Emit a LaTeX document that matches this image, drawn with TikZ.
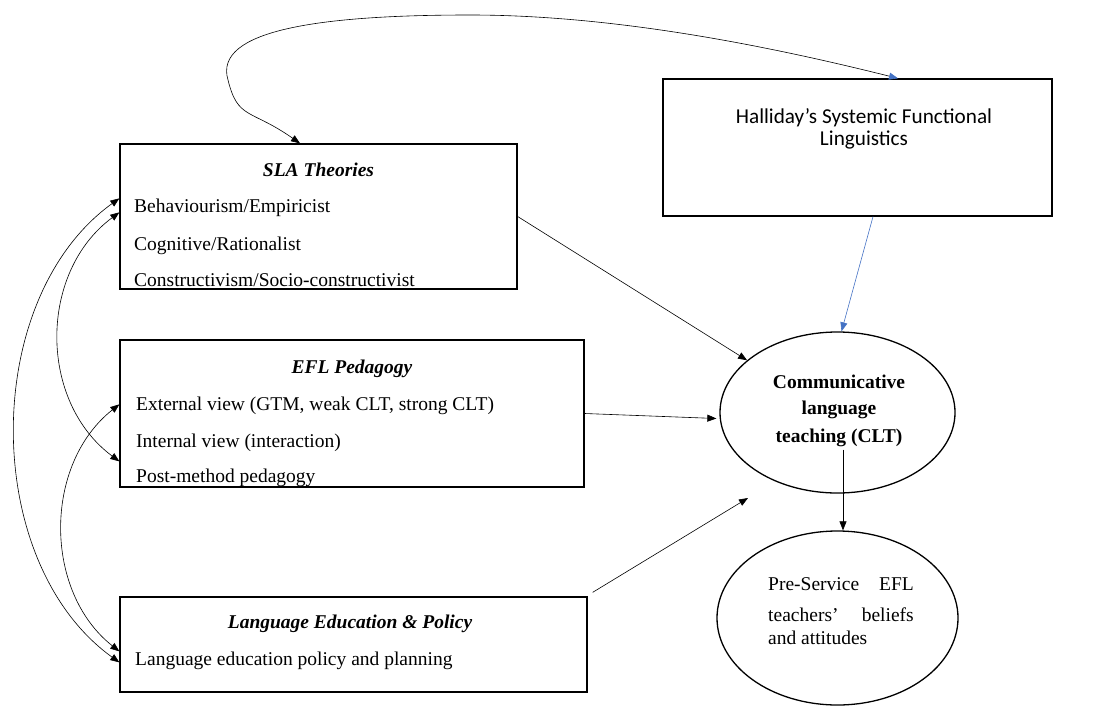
\documentclass[tikz,border=0pt]{standalone}
\usepackage{fontspec}
\setmainfont{Liberation Serif}
\newfontfamily\calibfont{Carlito}
\usetikzlibrary{arrows.meta,shapes.geometric,calc}
\definecolor{linkblue}{RGB}{68,114,196}
\tikzset{
  framebox/.style={draw=black, line width=1.3pt, rectangle, inner sep=0pt},
  oval/.style={draw=black, line width=1.3pt, ellipse, inner sep=0pt},
  body/.style={inner sep=0pt, anchor=base west, font=\fontsize{19.5}{23}\selectfont},
  heading/.style={inner sep=0pt, anchor=base, font=\fontsize{19.5}{23}\selectfont\bfseries\itshape},
  cltline/.style={inner sep=0pt, anchor=base, font=\fontsize{19.5}{23}\selectfont\bfseries},
  link/.style={line width=0.6pt, -{Triangle[length=9pt,width=7pt]}},
  bilink/.style={line width=0.6pt, {Triangle[length=9pt,width=7pt]}-{Triangle[length=9pt,width=7pt]}},
}
\begin{document}
\begin{tikzpicture}[x=1pt,y=-1pt]
\useasboundingbox (0,0) rectangle (1095,707);

% frames
\node[framebox, minimum width=397pt, minimum height=145pt] (sla) at (318.5,216.5) {};
\node[framebox, minimum width=464pt, minimum height=147pt] (efl) at (352,413.5) {};
\node[framebox, minimum width=467pt, minimum height=95pt] (lang) at (353.5,644.5) {};
\node[framebox, minimum width=389pt, minimum height=137pt] (hal) at (857.5,147.5) {};
\node[oval, minimum width=235pt, minimum height=161pt] (clt) at (837.5,412.5) {};
\node[oval, minimum width=241pt, minimum height=174pt] (pre) at (837.5,618) {};

% SLA theories
\node[heading] (slahead) at (318.5,176) {SLA Theories};
\node[body] (sla1) at (134,212) {Behaviourism/Empiricist};
\node[body] (sla2) at (134,250) {Cognitive/Rationalist};
\node[body] (sla3) at (134,286) {Constructivism/Socio-constructivist};

% EFL pedagogy
\node[heading] (eflhead) at (352,373) {EFL Pedagogy};
\node[body] (efl1) at (136,410) {External view (GTM, weak CLT, strong CLT)};
\node[body] (efl2) at (136,447) {Internal view (interaction)};
\node[body] (efl3) at (136,482) {Post-method pedagogy};

% language education
\node[heading] (langhead) at (350,628) {Language Education \& Policy};
\node[body] (lang1) at (135,665) {Language education policy and planning};

% Halliday
\node[inner sep=0pt, align=center, font=\calibfont\fontsize{21.2}{22}\selectfont] (haltext) at (864,129)
  {Halliday’s Systemic Functional\\Linguistics};

% CLT
\node[cltline] (clt1) at (839,388) {Communicative};
\node[cltline] (clt2) at (839,414) {language};
\node[cltline] (clt3) at (839,442) {teaching (CLT)};

% pre-service teachers
\node[body] (pre1a) at (768,590) {Pre-Service};
\node[body, anchor=base east] (pre1b) at (914,590) {EFL};
\node[body] (pre2a) at (768,621) {teachers’};
\node[body, anchor=base east] (pre2b) at (914,621) {beliefs};
\node[body] (pre3) at (768,644) {and attitudes};

% links into CLT
\draw[link] (sla.east) -- (clt.150);
\draw[link] (efl.east) -- ([yshift=-6pt,xshift=-3pt]clt.west);
\coordinate (langtip) at (748,498);
\draw[link] ([shift={(5pt,4pt)}]lang.north east) -- (langtip);
\draw[link, draw=linkblue, -{Triangle[length=9pt,width=7pt,color=linkblue]}]
  ([xshift=15.5pt]hal.south) -- ([xshift=4pt]clt.north);
\coordinate (cltfoot) at ([xshift=5.5pt,yshift=-37pt]clt.center);
\draw[link] (cltfoot) -- (cltfoot |- pre.north);

% SLA <-> Halliday
\draw[line width=0.6pt, {Triangle[length=9pt,width=7pt]}-{Triangle[length=9pt,width=7pt,color=linkblue]}]
  ([xshift=-18.5pt]sla.north) .. controls +(-50,-35) and +(10,40) .. (228,80)
  .. controls +(-15,-50) and +(-150,0) .. (470,15)
  .. controls +(150,0) and +(-120,-30) .. ([xshift=40.5pt]hal.north);

% links between the left-hand frames
\draw[bilink] ([yshift=-55pt]sla.north west) .. controls +(-139,100) and +(-139,-100) .. ([yshift=-66pt]lang.north west);
\draw[bilink] ([yshift=-69pt]sla.north west) .. controls +(-81,60) and +(-81,-60) .. ([yshift=-122pt]efl.north west);
\draw[bilink] ([yshift=-65pt]efl.north west) .. controls +(-76,60) and +(-76,-60) .. ([yshift=-55pt]lang.north west);
\end{tikzpicture}
\end{document}
